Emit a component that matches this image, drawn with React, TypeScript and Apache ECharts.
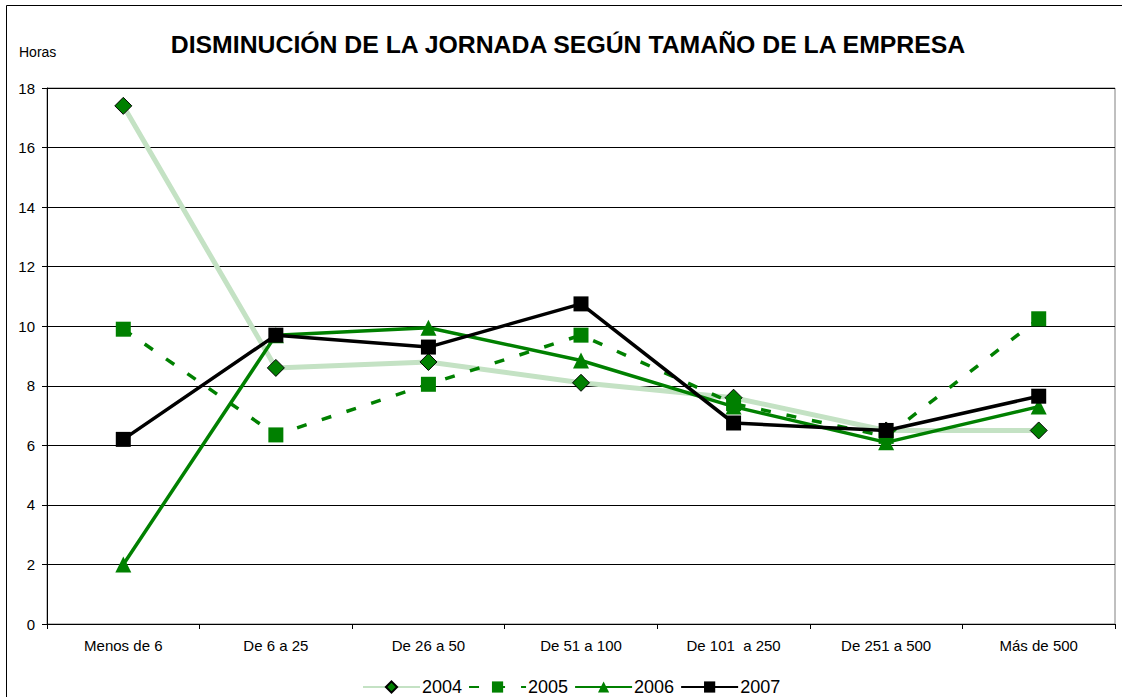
import React, { useEffect, useRef } from "react";
import * as echarts from "echarts";

const categories = ["Menos de 6", "De 6 a 25", "De 26 a 50", "De 51 a 100", "De 101  a 250", "De 251 a 500", "Más de 500"];
const s2004 = [17.4, 8.6, 8.8, 8.1, 7.6, 6.5, 6.5];
const s2005 = [9.9, 6.35, 8.05, 9.7, 7.4, 6.3, 10.25];
const s2006 = [2.0, 9.7, 9.95, 8.85, 7.3, 6.1, 7.3];
const s2007 = [6.2, 9.7, 9.3, 10.75, 6.75, 6.5, 7.65];
const yTicks = { min: 0, max: 18, interval: 2 };

const FONT = "'Liberation Sans', Arial, sans-serif";

export default function App() {
  const ref = useRef<HTMLDivElement>(null);
  useEffect(() => {
    document.body.style.margin = "0";
    const chart = echarts.init(ref.current!, null, { renderer: "svg" });
    chart.setOption({
      animation: false,
      backgroundColor: "#fff",
      textStyle: { fontFamily: FONT },
      title: {
        text: "DISMINUCIÓN DE LA JORNADA SEGÚN TAMAÑO DE LA EMPRESA",
        left: 563,
        textAlign: "center",
        top: 27,
        textStyle: { fontSize: 24.8, fontWeight: "bold", color: "#000", fontFamily: FONT },
      },
      graphic: [
        {
          type: "rect",
          shape: { x: 6.5, y: 5.5, width: 1130, height: 700 },
          style: { fill: "none", stroke: "#000", lineWidth: 1 },
          silent: true,
        },
        {
          type: "text",
          x: 19,
          y: 45,
          style: { text: "Horas", fontSize: 14, fill: "#000", fontFamily: FONT },
        },
      ],
      grid: {
        left: 47,
        right: 7,
        top: 88,
        bottom: 73,
        show: true,
        borderColor: "#808080",
        borderWidth: 1,
      },
      legend: {
        bottom: 1,
        left: 362,
        padding: 0,
        itemWidth: 57,
        itemHeight: 14,
        itemGap: 6,
        textStyle: { fontSize: 18, color: "#000", fontFamily: FONT, padding: [0, 0, 0, -3] },
        data: ["2004", "2005", "2006", "2007"],
      },
      xAxis: {
        type: "category",
        data: categories,
        boundaryGap: true,
        axisLine: { lineStyle: { color: "#000", width: 1 } },
        axisTick: { show: true, length: 5, lineStyle: { color: "#000" } },
        axisLabel: { fontSize: 15, color: "#000", margin: 14, fontFamily: FONT, interval: 0 },
        splitLine: { show: false },
      },
      yAxis: {
        type: "value",
        min: yTicks.min,
        max: yTicks.max,
        interval: yTicks.interval,
        axisLine: { show: true, lineStyle: { color: "#000", width: 1 } },
        axisTick: { show: true, length: 5, lineStyle: { color: "#000" } },
        axisLabel: { fontSize: 15, color: "#000", margin: 12, fontFamily: FONT },
        splitLine: { show: true, lineStyle: { color: "#000", width: 1 } },
      },
      series: [
        {
          name: "2004",
          type: "line",
          data: s2004,
          symbol: "diamond",
          symbolSize: 17,
          lineStyle: { color: "#c4e2c4", width: 5 },
          itemStyle: { color: "#008000", borderColor: "#000", borderWidth: 1 },
          z: 2,
        },
        {
          name: "2005",
          type: "line",
          data: s2005,
          symbol: "rect",
          symbolSize: 15,
          lineStyle: { color: "#008000", width: 3.5, type: [10, 16] },
          itemStyle: { color: "#008000" },
          z: 3,
        },
        {
          name: "2006",
          type: "line",
          data: s2006,
          symbol: "triangle",
          symbolSize: 16,
          lineStyle: { color: "#008000", width: 3.5 },
          itemStyle: { color: "#008000" },
          z: 4,
        },
        {
          name: "2007",
          type: "line",
          data: s2007,
          symbol: "rect",
          symbolSize: 15,
          lineStyle: { color: "#000", width: 3.5 },
          itemStyle: { color: "#000" },
          z: 5,
        },
      ],
    });
    return () => chart.dispose();
  }, []);
  return <div ref={ref} style={{ width: 1122, height: 697 }} />;
}
